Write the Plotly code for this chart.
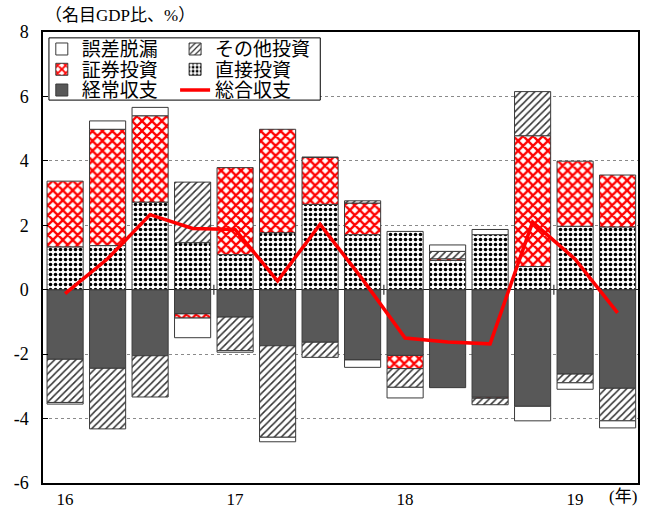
import plotly.graph_objects as go

quarters = ["16Q1", "16Q2", "16Q3", "16Q4", "17Q1", "17Q2", "17Q3", "17Q4",
            "18Q1", "18Q2", "18Q3", "18Q4", "19Q1", "19Q2"]
current_account = [-2.16, -2.44, -2.05, -0.75, -0.85, -1.74, -1.63, -2.18,
                   -2.04, -3.04, -3.34, -3.62, -2.62, -3.06]
direct_inv = [1.33, 1.37, 2.72, 1.46, 1.09, 1.77, 2.65, 1.71,
              1.81, 0.91, 1.71, 0.72, 1.97, 1.95]
portfolio_inv = [2.04, 3.61, 2.68, -0.13, 2.70, 3.21, 1.46, 0.98,
                 -0.41, 0.05, -0.03, 4.06, 2.02, 1.61]
other_inv = [-1.34, -1.88, -1.28, 1.88, -1.04, -2.84, -0.47, 0.07,
             -0.58, 0.23, -0.20, 1.37, -0.27, -1.01]
errors = [-0.05, 0.26, 0.26, -0.61, -0.05, -0.14, 0.0, -0.23,
          -0.33, 0.20, 0.16, -0.45, -0.20, -0.22]
overall = [-0.12, 0.96, 2.33, 1.90, 1.87, 0.27, 2.03, 0.32,
           -1.50, -1.62, -1.68, 2.10, 0.95, -0.72]

x_tickvals = [0, 4, 8, 12]
x_ticktext = ["16", "17", "18", "19"]
y_tickvals = [-6, -4, -2, 0, 2, 4, 6, 8]
y_ticktext = ["-6", "-4", "-2", "0", "2", "4", "6", "8"]

FONT = "'Liberation Serif', 'Times New Roman', 'Noto Sans CJK JP', serif"
x = list(range(len(quarters)))
outline = dict(color="#3a3a3a", width=1)

fig = go.Figure()
fig.add_trace(go.Bar(x=x, y=current_account, name="経常収支", legend="legend5",
                     width=0.85, marker=dict(color="#585858", line=outline)))
fig.add_trace(go.Bar(x=x, y=direct_inv, name="直接投資", legend="legend4",
                     width=0.85,
                     marker=dict(color="white", line=outline,
                                 pattern=dict(shape=".", fgcolor="black", bgcolor="white",
                                              size=5, solidity=0.4, fillmode="replace"))))
fig.add_trace(go.Bar(x=x, y=portfolio_inv, name="証券投資", legend="legend3",
                     width=0.85,
                     marker=dict(color="#ff0000", line=outline,
                                 pattern=dict(shape="x", fgcolor="#ff0000", bgcolor="white",
                                              size=7, solidity=0.55, fillmode="replace"))))
fig.add_trace(go.Bar(x=x, y=other_inv, name="その他投資", legend="legend2",
                     width=0.85,
                     marker=dict(color="white", line=outline,
                                 pattern=dict(shape="/", fgcolor="#333333", bgcolor="white",
                                              size=5, solidity=0.3, fillmode="replace"))))
fig.add_trace(go.Bar(x=x, y=errors, name="誤差脱漏", legend="legend",
                     width=0.85, marker=dict(color="white", line=outline)))
fig.add_trace(go.Scatter(x=x, y=overall, name="総合収支", legend="legend6",
                         mode="lines", line=dict(color="#ff0000", width=3.5)))

# year boundary ticks on the zero line
for i in range(1, len(quarters)):
    if quarters[i].endswith("Q1"):
        fig.add_shape(type="line", xref="x", yref="y", x0=i - 0.5, x1=i - 0.5,
                      ysizemode="pixel", yanchor=0, y0=-5, y1=5,
                      line=dict(color="#333333", width=1.2), layer="above")

# legend frame
fig.add_shape(type="rect", xref="paper", yref="paper",
              x0=0.010, x1=0.466, y0=0.849, y1=0.987,
              fillcolor="white", line=dict(color="black", width=1), layer="above")


def leg(xp, yp):
    return dict(x=xp, y=yp, xanchor="left", yanchor="middle", visible=True,
                bgcolor="rgba(0,0,0,0)", borderwidth=0,
                font=dict(family=FONT, size=19, color="black"),
                itemwidth=30)


col1, col2 = -0.002, 0.222
row1, row2, row3 = 0.962, 0.917, 0.871

fig.update_layout(
    width=645, height=508,
    margin=dict(l=43, r=7, t=32, b=25),
    paper_bgcolor="white", plot_bgcolor="white",
    barmode="relative", showlegend=True,
    font=dict(family=FONT, size=18, color="black"),
    legend=leg(col1, row1), legend2=leg(col2, row1),
    legend3=leg(col1, row2), legend4=leg(col2, row2),
    legend5=leg(col1, row3), legend6=leg(col2, row3),
    xaxis=dict(range=[-0.52, 13.48], tickvals=x_tickvals, ticktext=x_ticktext,
               showgrid=False, zeroline=False, showline=True, mirror=True,
               linecolor="black", linewidth=1.5, ticks="", ticklabelstandoff=0,
               tickfont=dict(family=FONT, size=17), automargin=False),
    yaxis=dict(range=[-6, 8], tickvals=y_tickvals, ticktext=y_ticktext,
               showgrid=True, gridcolor="#8a8a8a", griddash="dot", gridwidth=1,
               zeroline=True, zerolinecolor="#222222", zerolinewidth=1.2,
               showline=True, mirror=True, linecolor="black", linewidth=1.5,
               ticks="inside", ticklen=5, tickcolor="black", ticklabelstandoff=9,
               automargin=False),
    annotations=[
        dict(text="（名目GDP比、%）", xref="paper", yref="paper", x=0.0, y=1.036,
             xanchor="left", yanchor="middle", showarrow=False,
             font=dict(family=FONT, size=17)),
        dict(text="(年)", xref="paper", yref="paper", x=0.975, y=-0.029,
             xanchor="center", yanchor="middle", showarrow=False,
             font=dict(family=FONT, size=17)),
    ],
)

fig.write_html("out.html", config={"displayModeBar": False},
               post_script="document.body.style.margin='0';document.body.style.overflow='hidden';")
